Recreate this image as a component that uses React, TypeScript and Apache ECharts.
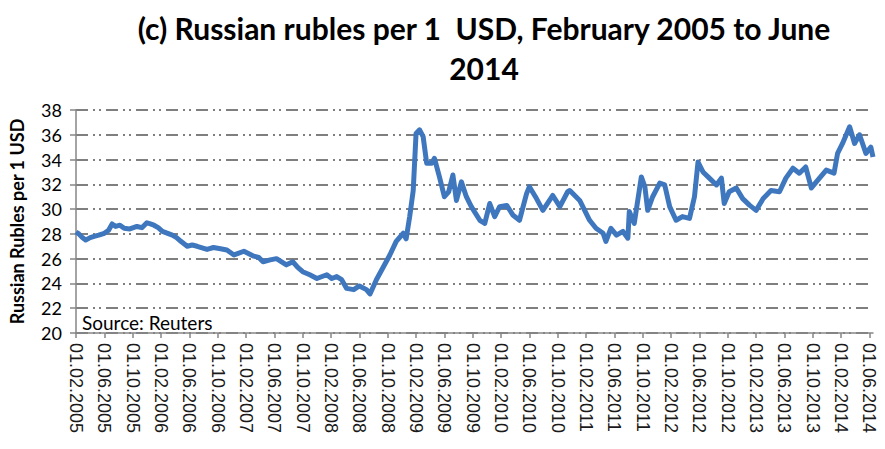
import React, { useEffect, useRef } from "react";
import * as echarts from "echarts";

// months since 01.02.2005
const months: number[] = [
  0, 0.4, 0.9, 1.36, 2, 2.56, 3.2, 4, 4.6, 5.1, 5.6, 6.2, 6.8, 7.6, 8.6, 9.3, 10, 10.5, 11,
  11.6, 12.2, 13.6, 14.2, 14.8, 15.7, 16.4, 17.1, 18.5, 19.4, 20.4, 21.3, 22.3, 23.7, 25.1,
  25.8, 26.4, 27.4, 28.3, 29.7, 30.6, 31.3, 32, 33, 34, 35.4, 36.1, 36.8, 37.5, 38.2, 39.2,
  40, 41, 41.5, 42.4, 43.4, 44.3, 45.2, 46.2, 46.6, 47.1, 47.6, 48, 48.5, 49, 49.5, 50.2,
  50.6, 51.3, 52, 52.6, 53.2, 53.7, 54.4, 55.1, 55.8, 57, 57.7, 58.4, 59.1, 59.8, 60.8, 61.7,
  62.6, 63.6, 64, 65, 65.9, 67.3, 68.3, 69.4, 69.7, 71.1, 72.5, 73.4, 74.4, 74.8, 75.5, 76.3,
  77.2, 77.9, 78.1, 78.8, 79.8, 80.3, 80.7, 81.4, 82.4, 83.1, 83.8, 84.7, 85.6, 86.6, 87.3,
  87.8, 88.5, 89.4, 90.4, 91.1, 91.5, 92.2, 93.2, 94.1, 95.1, 96, 97, 98.1, 99.3, 100.2,
  101.2, 102.1, 103, 103.8, 104.5, 105.9, 107, 107.5, 108.2, 109.2, 109.9, 110.6, 111.5,
  112.2, 112.5,
];

const rubles: number[] = [
  28.15, 28.0, 27.7, 27.5, 27.7, 27.8, 27.9, 28.05, 28.3, 28.8, 28.6, 28.7, 28.45, 28.4,
  28.6, 28.5, 28.9, 28.8, 28.7, 28.5, 28.2, 27.9, 27.7, 27.4, 27.0, 27.1, 27.0, 26.75, 26.9,
  26.8, 26.7, 26.3, 26.6, 26.2, 26.1, 25.75, 25.9, 26.0, 25.5, 25.75, 25.3, 24.95, 24.7, 24.4,
  24.7, 24.4, 24.55, 24.3, 23.6, 23.5, 23.8, 23.5, 23.15, 24.3, 25.35, 26.3, 27.4, 28.05,
  27.6, 29.4, 31.5, 36.1, 36.4, 35.85, 33.7, 33.7, 34.1, 32.6, 31.0, 31.4, 32.75, 30.7,
  32.2, 31.0, 30.2, 29.1, 28.85, 30.45, 29.4, 30.2, 30.3, 29.5, 29.1, 31.25, 31.8, 30.85,
  29.9, 31.1, 30.2, 31.4, 31.5, 30.7, 29.1, 28.45, 28.05, 27.4, 28.45, 27.9, 28.2, 27.65,
  29.8, 28.85, 32.6, 31.8, 29.9, 31.0, 32.1, 31.95, 30.2, 29.1, 29.4, 29.25, 31.0, 33.8,
  33.0, 32.5, 31.95, 32.5, 30.45, 31.4, 31.7, 30.85, 30.3, 29.9, 30.85, 31.5, 31.4, 32.5,
  33.3, 32.9, 33.4, 31.7, 32.2, 33.15, 32.9, 34.5, 35.3, 36.65, 35.3, 36.0, 34.5, 35.0,
  34.2,
];

const yTicks = { min: 20, max: 38, step: 2 };
const xTicks = { min: 0, max: 112.5, step: 4 };

const titleText = "(c) Russian rubles per 1  USD, February 2005 to June\n2014";
const yAxisName = "Russian Rubles per 1 USD";
const sourceText = "Source: Reuters";

function monthLabel(v: number): string {
  if (Math.abs(v % 4) > 1e-6) return "";
  const total = 2005 * 12 + 1 + Math.round(v);
  const year = Math.floor(total / 12);
  const mon = (total % 12) + 1;
  return "01." + (mon < 10 ? "0" + mon : String(mon)) + "." + year;
}

export default function App() {
  const ref = useRef<HTMLDivElement>(null);
  useEffect(() => {
    if (!ref.current) return;
    const chart = echarts.init(ref.current, undefined, { renderer: "svg" });
    const data = months.map((m, i) => [m, rubles[i]]);
    chart.setOption({
      animation: false,
      backgroundColor: "#ffffff",
      title: {
        text: titleText,
        left: 479,
        top: 3,
        textAlign: "center",
        textStyle: {
          fontFamily: "Lato",
          fontWeight: "bold",
          fontSize: 30,
          lineHeight: 40,
          color: "#000000",
        },
      },
      grid: { left: 76, right: 12, top: 110, bottom: 116, containLabel: false },
      xAxis: {
        type: "value",
        min: xTicks.min,
        max: xTicks.max,
        interval: xTicks.step,
        axisLine: { show: true, lineStyle: { color: "#868686", width: 1.5 } },
        axisTick: { show: true, length: 5, lineStyle: { color: "#868686", width: 1.5 } },
        splitLine: { show: false },
        axisLabel: {
          rotate: -90,
          margin: 10,
          formatter: (v: number) => monthLabel(v),
          fontFamily: "Liberation Sans",
          fontSize: 18,
          color: "#1a1a1a",
          showMaxLabel: false,
        },
      },
      yAxis: {
        type: "value",
        min: yTicks.min,
        max: yTicks.max,
        interval: yTicks.step,
        name: yAxisName,
        nameLocation: "middle",
        nameGap: 50,
        nameTextStyle: {
          fontFamily: "Lato",
          fontWeight: "bold",
          fontSize: 18,
          color: "#000000",
        },
        axisLine: { show: true, lineStyle: { color: "#868686", width: 1.5 } },
        axisTick: { show: true, length: 6, lineStyle: { color: "#868686", width: 1.5 } },
        axisLabel: {
          margin: 14,
          fontFamily: "Lato",
          fontSize: 18,
          color: "#000000",
        },
        splitLine: {
          show: true,
          lineStyle: { color: "#7f7f7f", width: 2, type: [12, 5, 2, 4, 2, 5] },
        },
      },
      graphic: [
        {
          type: "text",
          left: 82,
          top: 313,
          style: {
            text: sourceText,
            fontFamily: "Lato",
            fontSize: 19,
            fill: "#000000",
          },
        },
      ],
      series: [
        {
          type: "line",
          data,
          showSymbol: false,
          lineStyle: { color: "#3f77bf", width: 5, join: "round" },
          itemStyle: { color: "#3f77bf" },
        },
      ],
    });
    return () => chart.dispose();
  }, []);
  return (
    <div
      ref={ref}
      style={{ position: "fixed", left: 0, top: 0, width: 885, height: 449 }}
    />
  );
}
